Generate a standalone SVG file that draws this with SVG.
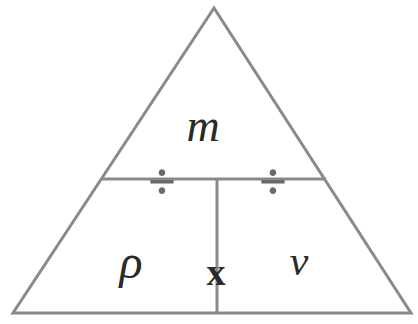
<svg xmlns="http://www.w3.org/2000/svg" width="418" height="324" viewBox="0 0 418 324">
<style>
.ln{stroke:#8a8a8a;stroke-width:3;fill:none;stroke-linejoin:miter}
.t{font-family:"Liberation Serif",serif;font-style:italic;fill:#2a2a2a;font-size:46px;text-anchor:middle}
.d{font-family:"Liberation Serif",serif;fill:#6a6a6a;font-size:50px;font-weight:bold;text-anchor:middle}
</style>
<rect width="418" height="324" fill="#fff"/>
<g id="connectors">
<polygon class="ln" points="214,8 13,313 411,313"/>
<line class="ln" x1="102" y1="179" x2="326" y2="179"/>
<line class="ln" x1="217" y1="179" x2="217" y2="313"/>
</g>
<g id="node-m"><text class="t" x="203" y="141">m</text></g>
<g id="node-rho"><text class="t" x="131" y="278" style="font-size:48px">ρ</text></g>
<g id="node-x"><text class="t" x="216" y="285" style="font-style:normal;font-weight:bold;font-size:38px">x</text></g>
<g id="node-v"><text class="t" x="299" y="275" style="font-size:42px">v</text></g>
<g id="div1"><text class="d" x="162" y="199">÷</text></g>
<g id="div2"><text class="d" x="273" y="199">÷</text></g>
</svg>
